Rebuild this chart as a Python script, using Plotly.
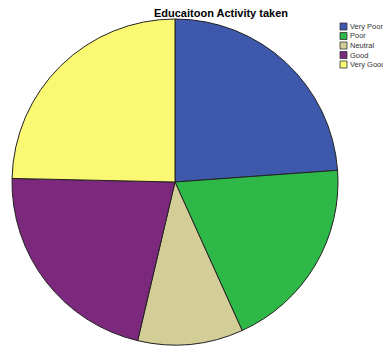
import plotly.graph_objects as go

categories = ["Very Poor", "Poor", "Neutral", "Good", "Very Good"]
values = [24, 19.5, 10.5, 21.8, 24.8]
colors = ["#3E58AC", "#2EB848", "#D3CE97", "#7C287D", "#FBF873"]

W, H = 383, 348

fig = go.Figure(go.Pie(
    labels=categories,
    values=values,
    sort=False,
    direction="clockwise",
    rotation=0,
    marker=dict(colors=colors, line=dict(color="#222222", width=1)),
    textinfo="none",
    hoverinfo="label+value",
    showlegend=False,
    domain=dict(x=[12/W, 338/W], y=[3/H, 329/H]),
))

# manual legend (compact, like the reference)
leg_x0, leg_y0, row_h, box = 340, 23, 9.5, 7
for i, (lab, col) in enumerate(zip(categories, colors)):
    ytop = leg_y0 + i * row_h
    fig.add_shape(type="rect", xref="paper", yref="paper",
                  x0=leg_x0 / W, x1=(leg_x0 + box) / W,
                  y0=1 - (ytop + box) / H, y1=1 - ytop / H,
                  fillcolor=col, line=dict(color="#333333", width=0.8))
    fig.add_annotation(x=(leg_x0 + box + 1) / W, y=1 - (ytop + box / 2) / H,
                       xref="paper", yref="paper", xanchor="left", yanchor="middle",
                       text=lab, showarrow=False,
                       font=dict(family="Liberation Sans, Arial", size=7.5, color="#333"))

fig.update_layout(
    width=W, height=H,
    margin=dict(l=0, r=0, t=0, b=0, autoexpand=False),
    paper_bgcolor="white",
    plot_bgcolor="white",
    title=dict(text="<b>Educaitoon Activity taken</b>", x=221/W, xanchor="center",
               y=1 - 13/H, yanchor="middle",
               font=dict(family="Liberation Sans, Arial", size=11, color="black")),
    showlegend=False,
)

fig.write_html("out.html", config={"displayModeBar": False},
               post_script="document.body.style.margin='0';document.body.style.overflow='hidden';")
